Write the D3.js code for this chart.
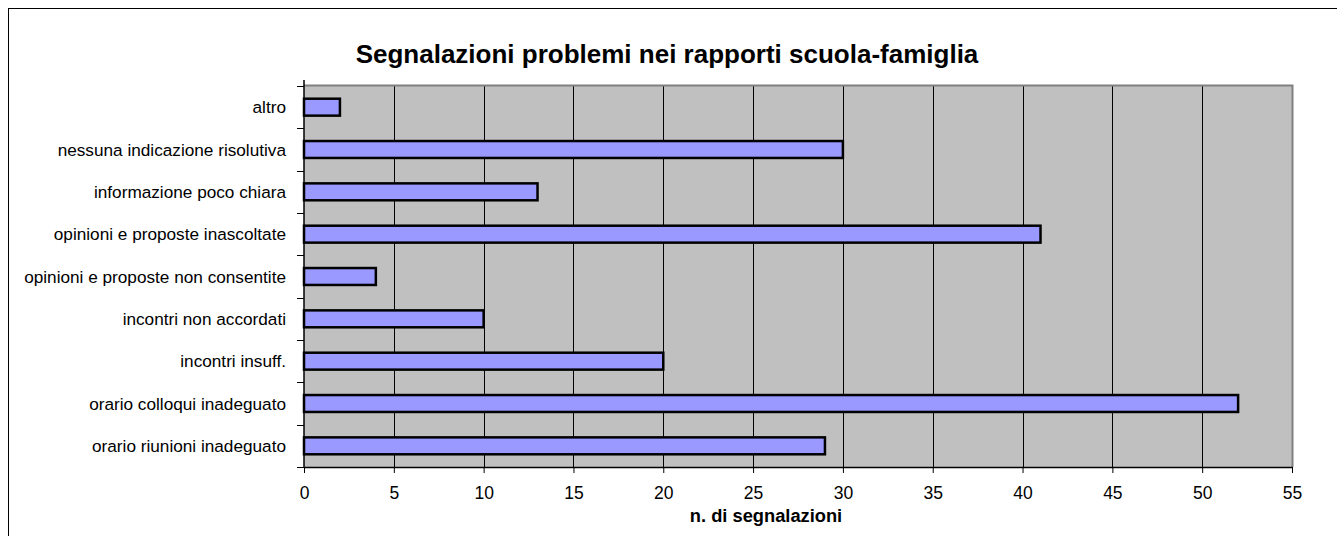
<!DOCTYPE html>
<html><head><meta charset="utf-8">
<script src="https://cdn.jsdelivr.net/npm/d3@7"></script>
<style>body{margin:0;background:#fff;}svg{display:block;font-family:"Liberation Sans",Arial,sans-serif;}</style>
</head><body>
<svg id="c" width="1337" height="536"></svg>
<script>
const categories = ["altro","nessuna indicazione risolutiva","informazione poco chiara","opinioni e proposte inascoltate","opinioni e proposte non consentite","incontri non accordati","incontri insuff.","orario colloqui inadeguato","orario riunioni inadeguato"];
const values = [2,30,13,41,4,10,20,52,29];
const xTicks = [0,5,10,15,20,25,30,35,40,45,50,55];
const title = "Segnalazioni problemi nei rapporti scuola-famiglia";
const xLabel = "n. di segnalazioni";

const svg = d3.select("#c");
const L=304, R=1292, T=86, B=467;
// outer frame
svg.append("rect").attr("x",8.5).attr("y",8.5).attr("width",1340).attr("height",540).attr("fill","#fff").attr("stroke","#000").attr("stroke-width",1);
const x = d3.scaleLinear().domain([0,55]).range([L,R]);
const y = d3.scaleBand().domain(categories).range([T,B]).paddingInner(0.6).paddingOuter(0.3);
// plot background
svg.append("rect").attr("x",L).attr("y",T).attr("width",R-L).attr("height",B-T).attr("fill","#c0c0c0");
// grid
svg.append("g").selectAll("line").data(xTicks.slice(1,-1)).join("line")
  .attr("x1",d=>Math.round(x(d))+0.5).attr("x2",d=>Math.round(x(d))+0.5).attr("y1",T).attr("y2",B)
  .attr("stroke","#000").attr("stroke-width",1);
// plot border top/right
svg.append("path").attr("d",`M${L},${T-0.5}H${R+0.5}V${B}`).attr("fill","none").attr("stroke","#808080").attr("stroke-width",2);
// bars
svg.append("g").selectAll("rect").data(values).join("rect")
  .attr("x",x(0)).attr("y",(d,i)=>y(categories[i])).attr("width",d=>x(d)-x(0)).attr("height",y.bandwidth())
  .attr("fill","#9999ff").attr("stroke","#000").attr("stroke-width",2.5);
// x axis
const xa = svg.append("g").attr("transform",`translate(0,${B})`)
  .call(d3.axisBottom(x).tickValues(xTicks).tickSize(6).tickPadding(14).tickSizeOuter(0));
xa.select(".domain").attr("stroke","#000").attr("stroke-width",1.5);
xa.selectAll(".tick line").attr("stroke","#000");
xa.selectAll("text").attr("font-size",17.5).attr("fill","#000").attr("font-family","Liberation Sans, Arial, sans-serif");
// y axis
const yBounds = d3.range(categories.length+1).map(i=>T+i*(B-T)/categories.length);
const ya = svg.append("g");
ya.append("line").attr("x1",L).attr("x2",L).attr("y1",T-6).attr("y2",B).attr("stroke","#000").attr("stroke-width",1.5);
ya.selectAll(".yt").data(yBounds).join("line").attr("class","yt")
  .attr("x1",L-7).attr("x2",L).attr("y1",d=>Math.round(d)+0.5).attr("y2",d=>Math.round(d)+0.5).attr("stroke","#000");
ya.selectAll("text").data(categories).join("text")
  .attr("x",L-18).attr("y",d=>y(d)+y.bandwidth()/2).attr("dy","0.36em").attr("text-anchor","end")
  .attr("font-size",17.2).attr("fill","#000").text(d=>d);
// titles
svg.append("text").attr("x",667).attr("y",63).attr("text-anchor","middle").attr("font-size",26).attr("font-weight","bold").text(title);
svg.append("text").attr("x",766).attr("y",522).attr("text-anchor","middle").attr("font-size",18.3).attr("font-weight","bold").text(xLabel);
</script>
</body></html>
